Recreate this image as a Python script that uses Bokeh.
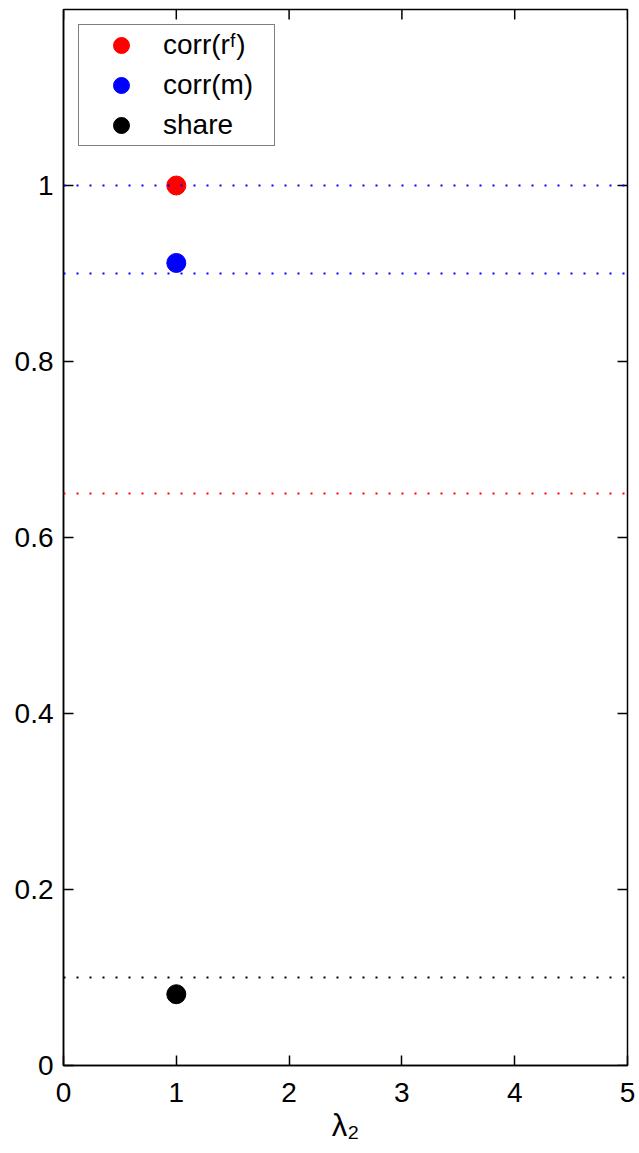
import math
from bokeh.plotting import figure
from bokeh.models import Span, FixedTicker, Legend, LegendItem, Range1d
from bokeh.embed import file_html
from bokeh.resources import INLINE

# ---- data ----
lambda2 = [1]
corr_rf = [1.0]
corr_m = [0.912]
share = [0.081]
series_names = ["corr(rᶠ)", "corr(m)", "share"]
series_colors = ["#ff0000", "#0000ff", "#000000"]
ref_levels = [1.0, 0.9, 0.65, 0.1]
ref_colors = ["#0000ff", "#0000ff", "#ff0000", "#000000"]
x_ticks = [0, 1, 2, 3, 4, 5]
y_ticks = [0, 0.2, 0.4, 0.6, 0.8, 1.0]
y_tick_labels = ["0", "0.2", "0.4", "0.6", "0.8", "1"]
x_limits = (0, 5)
y_limits = (0, 1.2)
x_title = "λ₂"

FONT = "Liberation Sans"
FS = "28px"

p = figure(width=639, height=1153,
           x_range=Range1d(*x_limits), y_range=Range1d(*y_limits),
           output_backend="svg", toolbar_location=None,
           min_border_left=63, min_border_right=12, min_border_top=9, min_border_bottom=88)

p.xgrid.visible = False
p.ygrid.visible = False
p.outline_line_color = "black"
p.outline_line_width = 1.5
p.background_fill_color = "white"


def style_axis(ax):
    ax.major_tick_in = 10
    ax.major_tick_out = 0
    ax.minor_tick_line_color = None
    ax.axis_line_color = "black"
    ax.axis_line_width = 1.5
    ax.major_tick_line_color = "black"
    ax.major_tick_line_width = 1.5
    ax.major_label_text_font = FONT
    ax.major_label_text_color = "black"
    ax.major_label_text_font_size = FS


p.xaxis.ticker = FixedTicker(ticks=x_ticks)
p.yaxis.ticker = FixedTicker(ticks=y_ticks)
p.yaxis.major_label_overrides = {float(v): s for v, s in zip(y_ticks, y_tick_labels)}
style_axis(p.xaxis[0])
style_axis(p.yaxis[0])
p.yaxis.major_label_standoff = 10
p.xaxis.major_label_standoff = 17
p.xaxis.axis_label = x_title
p.xaxis.axis_label_text_font = FONT
p.xaxis.axis_label_text_font_size = "31px"
p.xaxis.axis_label_text_font_style = "normal"
p.xaxis.axis_label_text_color = "black"
p.xaxis.axis_label_standoff = 3

# mirrored inward ticks on the top and right edges (clipped to the frame)
p.scatter(x_ticks, [y_limits[1]] * len(x_ticks), marker="dash", angle=math.pi / 2,
          size=20, line_color="black", line_width=1.5)
p.scatter([x_limits[1]] * len(y_ticks), y_ticks, marker="dash",
          size=20, line_color="black", line_width=1.5)

for lvl, col in zip(ref_levels, ref_colors):
    p.add_layout(Span(location=lvl, dimension="width", line_color=col,
                      line_dash="2 11", line_width=2))

renderers = []
for ys, col in zip([corr_rf, corr_m, share], series_colors):
    r = p.scatter(lambda2, ys, size=19, fill_color=col, line_color=col)
    renderers.append(r)

legend = Legend(items=[LegendItem(label=n, renderers=[r]) for n, r in zip(series_names, renderers)],
                location="top_left", margin=15, padding=0, spacing=0,
                glyph_width=84, glyph_height=40, label_standoff=0, label_width=111,
                label_text_font=FONT, label_text_font_size=FS, label_text_color="black",
                border_line_color="black", border_line_width=1.5,
                background_fill_color="white", background_fill_alpha=1.0)
p.add_layout(legend)

open("out.html", "w").write(file_html(p, INLINE))
